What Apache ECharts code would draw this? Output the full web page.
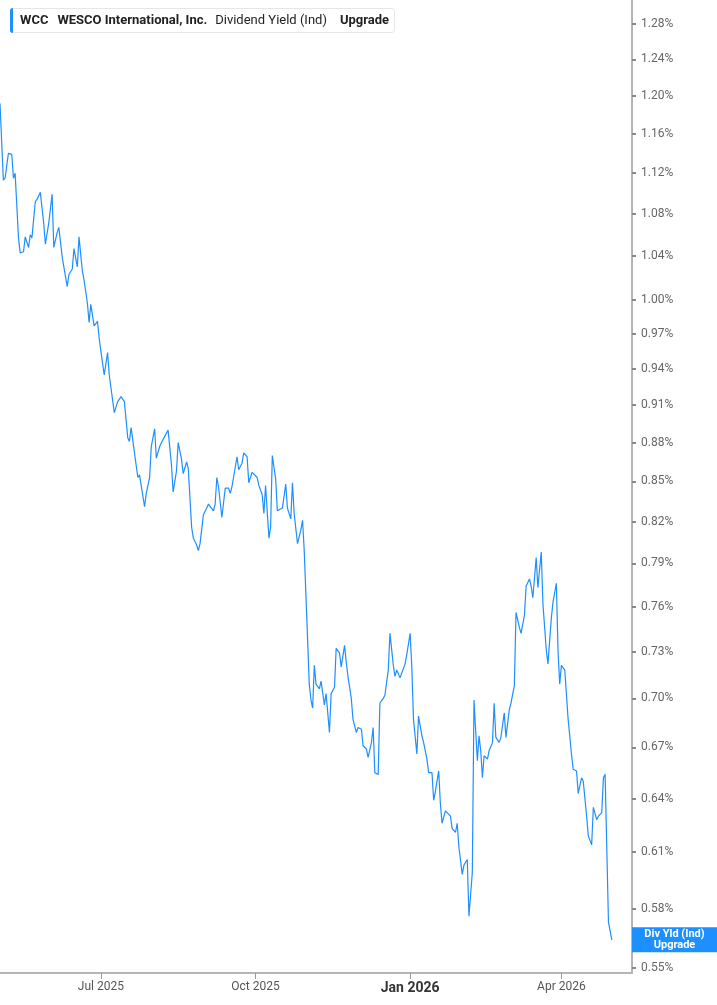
<!DOCTYPE html>
<html><head><meta charset="utf-8">
<script src="https://cdn.jsdelivr.net/npm/echarts@6/dist/echarts.min.js"></script>
<style>html,body{margin:0;padding:0;background:#fff}#c{width:717px;height:1005px}</style>
</head><body><div id="c"></div>
<script>
const dates = [
'2025-05-02','2025-05-04','2025-05-05','2025-05-07','2025-05-09','2025-05-10','2025-05-11','2025-05-13','2025-05-14','2025-05-16',
'2025-05-17','2025-05-19','2025-05-20','2025-05-21','2025-05-23','2025-05-24','2025-05-26','2025-05-28','2025-05-29','2025-05-31',
'2025-06-02','2025-06-03','2025-06-05','2025-06-06','2025-06-08','2025-06-11','2025-06-12','2025-06-14','2025-06-15','2025-06-17',
'2025-06-18','2025-06-20','2025-06-21','2025-06-23','2025-06-24','2025-06-25','2025-06-27','2025-06-29','2025-06-30','2025-07-02',
'2025-07-03','2025-07-05','2025-07-06','2025-07-09','2025-07-11','2025-07-13','2025-07-15','2025-07-17','2025-07-18','2025-07-19',
'2025-07-21','2025-07-23','2025-07-24','2025-07-25','2025-07-27','2025-07-28','2025-07-30','2025-07-31','2025-08-02','2025-08-03',
'2025-08-05','2025-08-06','2025-08-08','2025-08-10','2025-08-12','2025-08-13','2025-08-15','2025-08-16','2025-08-18','2025-08-19',
'2025-08-21','2025-08-22','2025-08-24','2025-08-25','2025-08-27','2025-08-28','2025-08-29','2025-08-31','2025-09-02','2025-09-03',
'2025-09-06','2025-09-07','2025-09-08','2025-09-09','2025-09-11','2025-09-13','2025-09-15','2025-09-16','2025-09-17','2025-09-18',
'2025-09-20','2025-09-21','2025-09-23','2025-09-24','2025-09-26','2025-09-27','2025-09-29','2025-09-30','2025-10-02','2025-10-03',
'2025-10-05','2025-10-06','2025-10-07','2025-10-09','2025-10-10','2025-10-11','2025-10-13','2025-10-14','2025-10-17','2025-10-19',
'2025-10-20','2025-10-22','2025-10-23','2025-10-24','2025-10-26','2025-10-28','2025-10-29','2025-10-30','2025-11-01','2025-11-02',
'2025-11-03','2025-11-04','2025-11-05','2025-11-06','2025-11-08','2025-11-09','2025-11-11','2025-11-12','2025-11-14','2025-11-15',
'2025-11-17','2025-11-18','2025-11-20','2025-11-21','2025-11-23','2025-11-24','2025-11-25','2025-11-27','2025-11-28','2025-11-30',
'2025-12-01','2025-12-03','2025-12-04','2025-12-06','2025-12-07','2025-12-09','2025-12-10','2025-12-11','2025-12-13','2025-12-14',
'2025-12-16','2025-12-17','2025-12-19','2025-12-20','2025-12-22','2025-12-23','2025-12-24','2025-12-26','2025-12-27','2025-12-29',
'2025-12-30','2026-01-01','2026-01-02','2026-01-03','2026-01-05','2026-01-06','2026-01-08','2026-01-09','2026-01-11','2026-01-12',
'2026-01-14','2026-01-15','2026-01-16','2026-01-18','2026-01-19','2026-01-20','2026-01-22','2026-01-23','2026-01-25','2026-01-26',
'2026-01-28','2026-01-29','2026-01-30','2026-02-01','2026-02-02','2026-02-04','2026-02-05','2026-02-07','2026-02-08','2026-02-10',
'2026-02-11','2026-02-12','2026-02-13','2026-02-14','2026-02-16','2026-02-17','2026-02-19','2026-02-20','2026-02-21','2026-02-23',
'2026-02-24','2026-02-26','2026-02-27','2026-03-01','2026-03-02','2026-03-04','2026-03-05','2026-03-07','2026-03-08','2026-03-10',
'2026-03-11','2026-03-13','2026-03-14','2026-03-15','2026-03-17','2026-03-18','2026-03-20','2026-03-21','2026-03-23','2026-03-24',
'2026-03-26','2026-03-27','2026-03-29','2026-03-30','2026-03-31','2026-04-01','2026-04-03','2026-04-04','2026-04-05','2026-04-07',
'2026-04-08','2026-04-10','2026-04-11','2026-04-13','2026-04-14','2026-04-16','2026-04-17','2026-04-19','2026-04-20','2026-04-22',
'2026-04-23','2026-04-25','2026-04-26','2026-04-27','2026-04-29','2026-05-01'
];
const yieldValues = [
1.192,1.113,1.115,1.140,1.139,1.115,1.120,1.057,1.043,1.044,
1.058,1.048,1.060,1.057,1.092,1.094,1.101,1.071,1.051,1.071,
1.099,1.048,1.062,1.067,1.039,1.012,1.023,1.028,1.047,1.030,
1.058,1.026,1.018,0.997,0.980,0.996,0.977,0.981,0.966,0.945,
0.935,0.954,0.935,0.904,0.913,0.917,0.913,0.884,0.881,0.892,
0.872,0.853,0.855,0.847,0.831,0.841,0.853,0.877,0.891,0.868,
0.877,0.880,0.885,0.890,0.863,0.842,0.858,0.880,0.867,0.856,
0.865,0.860,0.816,0.808,0.803,0.799,0.804,0.825,0.830,0.833,
0.828,0.833,0.853,0.846,0.823,0.845,0.845,0.841,0.846,0.845,
0.869,0.859,0.864,0.872,0.869,0.849,0.857,0.857,0.853,0.847,
0.840,0.826,0.847,0.808,0.816,0.870,0.852,0.828,0.830,0.848,
0.830,0.822,0.849,0.826,0.804,0.814,0.821,0.799,0.738,0.709,
0.699,0.694,0.721,0.709,0.706,0.711,0.696,0.703,0.679,0.703,
0.707,0.732,0.729,0.720,0.734,0.723,0.714,0.700,0.687,0.679,
0.682,0.681,0.671,0.669,0.664,0.673,0.682,0.655,0.654,0.697,
0.700,0.702,0.718,0.742,0.721,0.714,0.718,0.713,0.716,0.722,
0.728,0.742,0.720,0.687,0.666,0.689,0.677,0.673,0.663,0.655,
0.655,0.639,0.644,0.656,0.637,0.626,0.633,0.632,0.630,0.623,
0.621,0.626,0.613,0.598,0.603,0.606,0.576,0.599,0.699,0.662,
0.677,0.668,0.652,0.665,0.663,0.668,0.673,0.697,0.676,0.673,
0.676,0.691,0.676,0.693,0.697,0.708,0.756,0.746,0.742,0.754,
0.774,0.779,0.774,0.766,0.794,0.773,0.798,0.762,0.731,0.722,
0.752,0.763,0.776,0.730,0.709,0.721,0.718,0.718,0.687,0.666,
0.657,0.656,0.643,0.652,0.650,0.630,0.619,0.614,0.635,0.628,
0.630,0.632,0.652,0.654,0.573,0.564
];
const xTickDates = ['2025-07-01','2025-10-01','2026-01-01','2026-04-01'];
const yTickValues = [0.55,0.58,0.61,0.64,0.67,0.70,0.73,0.76,0.79,0.82,0.85,0.88,0.91,0.94,0.97,1.00,1.04,1.08,1.12,1.16,1.20,1.24,1.28];
const monthNames = ['Jan','Feb','Mar','Apr','May','Jun','Jul','Aug','Sep','Oct','Nov','Dec'];
const endLabelLines = ['Div Yld (Ind)','Upgrade'];

const blue = '#1e8fff';
const ts = s => echarts.number.parseDate(s).getTime();
const chart = echarts.init(document.getElementById('c'), null, {renderer:'canvas'});
const xTicks = xTickDates.map(ts);

const barGraphic = {type: 'rect', left: 10, top: 8, z: 100, shape: {width: 3, height: 25, r: [3, 0, 0, 3]}, style: {fill: blue}};
const TF = 'Roboto, sans-serif';

chart.setOption({
  animation: false,
  backgroundColor: '#fff',
  title: {
    left: 10, top: 8, padding: [6, 6, 6, 10],
    backgroundColor: '#fff', borderColor: '#e6e6e6', borderWidth: 1, borderRadius: 3,
    text: '{a|WCC}{c|WESCO International, Inc.}{n|Dividend Yield (Ind)}{b|Upgrade}',
    textStyle: {
      lineHeight: 13,
      rich: {
        a: {fontFamily: TF, fontSize: 13, fontWeight: 'bold', color: '#222', padding: [0, 9, 0, 0], lineHeight: 13},
        c: {fontFamily: TF, fontSize: 13, fontWeight: 'bold', color: '#222', padding: [0, 8, 0, 0], lineHeight: 13},
        n: {fontFamily: TF, fontSize: 13, fontWeight: 'normal', color: '#222', padding: [0, 13, 0, 0], lineHeight: 13},
        b: {fontFamily: TF, fontSize: 13, fontWeight: 'bold', color: '#222', lineHeight: 13}
      }
    }
  },
  grid: {left: 0, right: 85, top: 0, bottom: 32, containLabel: false},
  xAxis: {
    type: 'value',
    min: ts('2025-05-02'), max: ts('2026-05-13'),
    axisLine: {show: true, lineStyle: {color: '#b5b5b5', width: 2}},
    axisTick: {show: true, length: 6, lineStyle: {color: '#999', width: 1}, customValues: xTicks},
    axisLabel: {
      customValues: xTicks, margin: 8,
      fontFamily: TF, fontSize: 12, color: '#555',
      formatter: function (v) {
        const d = new Date(v);
        const t = monthNames[d.getMonth()] + ' ' + d.getFullYear();
        return d.getMonth() === 0 ? '{j|' + t + '}' : t;
      },
      rich: {j: {fontFamily: TF, fontSize: 14, fontWeight: 'bold', color: '#333'}}
    },
    splitLine: {show: false}
  },
  yAxis: {
    type: 'log', logBase: 10,
    min: 0.5475, max: 1.3078,
    position: 'right',
    axisLine: {show: true, lineStyle: {color: '#b5b5b5', width: 2}},
    axisTick: {show: true, length: 4, inside: false, lineStyle: {color: '#888', width: 2}, customValues: yTickValues},
    axisLabel: {
      customValues: yTickValues, margin: 9,
      fontFamily: TF, fontSize: 12, color: '#666',
      formatter: function (v) { return (+v).toFixed(2) + '%'; }
    },
    splitLine: {show: false}
  },
  graphic: [barGraphic],
  series: [{
    type: 'line',
    data: dates.map((d, i) => [ts(d), yieldValues[i]]),
    showSymbol: false,
    lineStyle: {color: blue, width: 1.2},
    itemStyle: {color: blue}
  }]
});

const lastVal = yieldValues[yieldValues.length - 1];
const yPix = chart.convertToPixel({yAxisIndex: 0}, lastVal);
chart.setOption({
  graphic: [
    barGraphic,
    {type: 'rect', x: 632, y: yPix - 12.5, shape: {width: 85, height: 25}, style: {fill: blue}, z: 10},
    {type: 'text', x: 674.5, y: yPix, z: 11,
     style: {text: endLabelLines.join('\n'), fill: '#fff', font: 'bold 11px Roboto, sans-serif', textAlign: 'center', textVerticalAlign: 'middle', lineHeight: 11}}
  ]
});
</script>
</body></html>
